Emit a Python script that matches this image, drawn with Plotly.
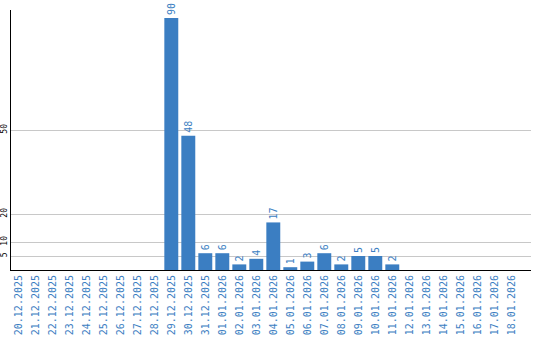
import plotly.graph_objects as go

dates = ["20.12.2025", "21.12.2025", "22.12.2025", "23.12.2025", "24.12.2025",
         "25.12.2025", "26.12.2025", "27.12.2025", "28.12.2025", "29.12.2025",
         "30.12.2025", "31.12.2025", "01.01.2026", "02.01.2026", "03.01.2026",
         "04.01.2026", "05.01.2026", "06.01.2026", "07.01.2026", "08.01.2026",
         "09.01.2026", "10.01.2026", "11.01.2026", "12.01.2026", "13.01.2026",
         "14.01.2026", "15.01.2026", "16.01.2026", "17.01.2026", "18.01.2026"]
counts = [0, 0, 0, 0, 0, 0, 0, 0, 0, 90,
          48, 6, 6, 2, 4, 17, 1, 3, 6, 2,
          5, 5, 2, 0, 0, 0, 0, 0, 0, 0]
y_ticks = [5, 10, 20, 50]

BLUE = "#3b7ec2"
FONT = "DejaVu Sans Mono"

labels = [str(v) if v else "" for v in counts]

fig = go.Figure(go.Bar(
    x=dates, y=counts, text=labels,
    textposition="outside", textangle=-90,
    textfont=dict(family=FONT, size=10, color=BLUE),
    marker=dict(color=BLUE, line=dict(width=0)),
    cliponaxis=False, hoverinfo="skip",
))

fig.update_layout(
    width=540, height=340,
    margin=dict(l=11, r=9, t=10, b=70),
    paper_bgcolor="white", plot_bgcolor="white",
    bargap=0.18, showlegend=False,
    uniformtext=dict(minsize=10, mode="show"),
)
fig.update_xaxes(
    type="category", range=[-0.43, 30.16],
    tickangle=-90, tickfont=dict(family=FONT, size=10, color=BLUE),
    showline=True, linecolor="black", linewidth=1,
    showgrid=False, ticks="", automargin=False,
)
fig.update_yaxes(
    range=[0, 92.9], tickvals=y_ticks, tickangle=-90,
    tickfont=dict(family=FONT, size=8, color="black"),
    ticklabelstandoff=0,
    showline=True, linecolor="black", linewidth=1,
    showgrid=True, gridcolor="#c8c8c8", gridwidth=1,
    zeroline=False, ticks="", automargin=False,
)

fig.write_html("out.html")
